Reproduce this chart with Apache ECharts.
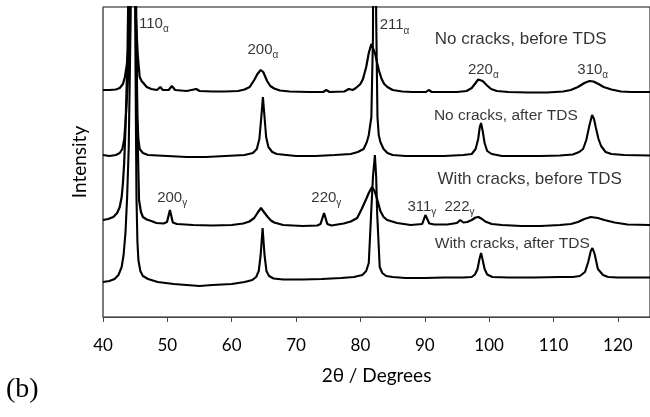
<!DOCTYPE html>
<html>
<head>
<meta charset="utf-8">
<script src="https://cdn.jsdelivr.net/npm/echarts@6/dist/echarts.min.js"></script>
<style>
  html, body { margin: 0; padding: 0; background: #fff; }
  #chart { width: 650px; height: 417px; }
</style>
</head>
<body>
<div id="chart"></div>
<script>
// x axis (2theta, degrees)
const xMin = 40, xMax = 125, xStep = 10;

// XRD traces, [2theta, intensity (arb., stacked offset)]
const noCracksBefore = [
  [40, 227], [41, 227], [42, 227.5], [42.6, 229], [43.1, 233], [43.4, 240], [43.7, 252], [43.9, 267],
  [44.1, 300], [44.3, 380], [44.6, 620], [44.9, 380], [45.1, 300], [45.4, 262], [45.7, 240], [46.0, 236],
  [46.8, 230], [47.5, 228], [48.4, 227], [48.9, 230], [49.3, 227], [50.2, 227], [50.7, 231], [51.2, 227],
  [53, 226], [54.5, 228], [55, 226], [57, 225.5], [59, 225.5], [61, 226], [62.0, 227.5], [62.8, 230],
  [63.5, 237], [64.0, 243], [64.5, 247], [64.9, 245], [65.5, 236], [66.0, 231], [66.6, 228.5], [67.5, 226.5],
  [69, 225.5], [72, 225], [74.2, 225], [74.7, 227], [75.2, 225], [77.5, 225.5], [78.2, 228], [78.8, 227],
  [79.3, 229], [80.0, 233], [80.4, 238], [80.9, 250], [81.3, 264], [81.7, 273], [81.95, 274], [82.3, 263],
  [82.6, 254], [82.9, 246], [83.3, 238], [83.7, 233], [84.2, 230], [85.0, 227], [86.5, 225.5], [88, 225],
  [90.2, 225], [90.6, 227], [91.1, 225], [93, 225], [95, 225], [96.5, 226], [97.3, 229], [97.9, 234],
  [98.3, 237.5], [98.6, 238], [99.0, 236], [99.6, 232], [100.3, 228], [101.2, 226], [103, 225], [106, 224.5],
  [109, 224.5], [111.5, 225.5], [112.7, 227], [113.8, 230], [114.8, 234], [115.6, 236], [116.2, 235.5],
  [117.0, 233], [117.8, 230], [119.0, 227.5], [120.5, 225.5], [122, 225], [125, 225]
];

const noCracksAfter = [
  [40, 162], [41, 161], [42, 162], [42.6, 164], [43.0, 168], [43.3, 178], [43.6, 205], [43.9, 240],
  [44.2, 320], [44.45, 500], [44.7, 800], [44.95, 500], [45.15, 300], [45.35, 200], [45.5, 178], [45.7, 168],
  [46.2, 164], [47, 162], [50, 161], [53, 160], [56, 160], [59, 161], [62, 162], [63.3, 164], [63.9, 168],
  [64.3, 178], [64.6, 200], [64.85, 220], [65.1, 200], [65.35, 180], [65.7, 170], [66.3, 165], [67, 163],
  [70, 161], [73, 161], [76, 162], [78.5, 163], [79.6, 165], [80.5, 168], [81.0, 175], [81.3, 182],
  [81.7, 200], [81.95, 280], [82.2, 800], [82.45, 300], [82.65, 200], [82.85, 182], [83.1, 175], [83.6, 168],
  [84.2, 164], [85, 162], [87, 161], [90, 161], [93, 161], [96, 162], [97.3, 163], [97.9, 168], [98.3, 178],
  [98.55, 190], [98.75, 194], [99.0, 186], [99.3, 174], [99.7, 166], [100.4, 163], [102, 161], [105, 161],
  [108, 161], [111, 161.5], [113, 162.5], [114.0, 165], [114.6, 168], [115.1, 177], [115.6, 192], [116.0, 202],
  [116.3, 198], [116.6, 189], [117.0, 178], [117.4, 171], [118.1, 165], [119, 163], [121, 162], [125, 161.5]
];

const withCracksBefore = [
  [40, 97], [40.8, 98], [41.6, 100], [42.2, 104], [42.6, 110], [42.9, 120], [43.1, 134], [43.3, 155],
  [43.5, 190], [43.8, 260], [44.1, 400], [44.6, 700], [45.0, 400], [45.3, 200], [45.6, 117], [45.9, 105],
  [46.2, 100], [46.8, 97.5], [47.5, 96], [48.3, 94], [49.4, 93.5], [49.95, 95], [50.4, 107], [50.85, 94.5],
  [51.5, 93], [54, 92], [57, 91.5], [60, 92], [61.8, 93.5], [62.75, 95.5], [63.5, 99], [64.0, 104],
  [64.55, 109], [65.0, 105], [65.6, 100], [66.1, 96.5], [66.6, 94.5], [68, 92], [71, 91], [73.3, 91.5],
  [73.8, 93], [74.35, 104], [74.85, 93], [75.5, 91.5], [77.4, 93.5], [78.5, 95.5], [79.5, 99], [80.2, 108],
  [80.9, 118], [81.3, 124], [81.8, 130], [82.2, 126], [82.6, 118], [83.1, 106], [83.6, 100], [84.15, 97],
  [85.7, 94], [87.8, 92], [89.6, 93], [90.1, 102], [90.7, 93.5], [91.5, 92.5], [93.5, 92.5], [94.5, 93.5],
  [95.0, 94], [95.5, 97], [96.0, 94.5], [96.6, 95], [97.3, 97], [97.9, 99.5], [98.35, 100], [98.9, 98],
  [99.4, 95.5], [100.4, 93], [102, 92], [105, 91], [108, 91], [111, 92], [112.7, 93], [113.8, 95],
  [114.8, 98], [115.8, 100], [116.9, 99], [117.9, 97], [119.5, 94.5], [121.5, 92.5], [125, 92]
];

const withCracksAfter = [
  [40, 35], [41, 36], [41.8, 38], [42.4, 42], [42.9, 50], [43.2, 62], [43.5, 85], [43.75, 120],
  [44.0, 170], [44.3, 300], [44.7, 800], [45.0, 300], [45.2, 120], [45.35, 75], [45.5, 57], [45.8, 46],
  [46.2, 41], [47, 38], [48.5, 35], [51, 33], [53, 32], [55, 31], [57, 32], [60, 33], [62, 35],
  [63.2, 37], [63.8, 40], [64.2, 46], [64.5, 62], [64.8, 89], [65.1, 62], [65.4, 46], [65.8, 41],
  [66.5, 38.5], [68, 37.5], [71, 37.5], [74, 38], [77, 39], [79, 40], [80.3, 42], [80.9, 46],
  [81.3, 54], [81.67, 104], [81.95, 140], [82.25, 162], [82.45, 140], [82.6, 104], [83.0, 50], [83.4, 44],
  [84, 41], [85, 40], [87, 39], [90, 39], [93, 39.5], [96, 39.5], [97.3, 40], [97.8, 42.5], [98.2, 48],
  [98.5, 58], [98.75, 64], [99.0, 57], [99.3, 48], [99.7, 42.5], [100.5, 40], [103, 39.5], [107, 39.5],
  [111, 40], [113, 40], [114.1, 41], [114.9, 45], [115.4, 55], [115.8, 66], [116.05, 69], [116.4, 63],
  [116.9, 48], [117.7, 42], [118.5, 40], [120, 39.5], [125, 39.5]
];

// peak labels (Miller index + phase subscript)
const peakIndex = ['110', '200', '211', '220', '310', '200', '220', '311', '222'];
const peakPhase = ['α', 'α', 'α', 'α', 'α', 'γ', 'γ', 'γ', 'γ'];
const peakLabelX = [47.9, 64.85, 85.3, 99.1, 116.1, 50.75, 74.7, 89.55, 95.4];
const peakLabelY = [293.5, 267, 291.7, 247.3, 247.3, 119.3, 119.3, 110.2, 110.2];

// sample names
const sampleNames = ['No cracks, before TDS', 'No cracks, after TDS', 'With cracks, before TDS', 'With cracks, after TDS'];
const sampleX = [104.9, 102.6, 106.3, 103.6];
const sampleY = [277.5, 201, 137.7, 73.2];
const sampleSize = [17, 15.5, 17, 15.5];

const sansFont = '"Liberation Sans", Arial, sans-serif';
const axisFont = 'Lato, "Open Sans", sans-serif';

const labelData = [];
peakIndex.forEach(function (t, i) {
  labelData.push({
    value: [peakLabelX[i], peakLabelY[i]],
    label: { formatter: '{m|' + t + '}{s|' + peakPhase[i] + '}' }
  });
});
sampleNames.forEach(function (t, i) {
  labelData.push({
    value: [sampleX[i], sampleY[i]],
    label: { formatter: t, fontSize: sampleSize[i] }
  });
});

function trace(name, data, w) {
  return {
    name: name,
    type: 'line',
    data: data,
    symbol: 'none',
    clip: true,
    lineStyle: { color: '#000', width: w },
    silent: true
  };
}

const chart = echarts.init(document.getElementById('chart'));
chart.setOption({
  animation: false,
  backgroundColor: '#fff',
  grid: {
    left: 103, right: -2, top: 7, bottom: 100,
    show: true, borderColor: '#111', borderWidth: 1
  },
  xAxis: {
    type: 'value',
    min: xMin, max: xMax, interval: xStep,
    name: '2θ / Degrees',
    nameLocation: 'middle',
    nameGap: 49,
    nameTextStyle: { fontFamily: axisFont, fontSize: 19, color: '#000' },
    axisLine: { show: true, lineStyle: { color: '#444', width: 1.2 } },
    axisTick: { show: true, inside: false, length: 5, lineStyle: { color: '#444' } },
    axisLabel: { margin: 20, fontFamily: axisFont, fontSize: 17, color: '#000', showMaxLabel: false },
    splitLine: { show: false }
  },
  yAxis: {
    type: 'value',
    min: 0, max: 310,
    name: 'Intensity',
    nameLocation: 'middle',
    nameGap: 14,
    nameTextStyle: { fontFamily: axisFont, fontSize: 19, color: '#000' },
    axisLine: { show: true, lineStyle: { color: '#777', width: 1.5 } },
    axisTick: { show: false },
    axisLabel: { show: false },
    splitLine: { show: false }
  },
  series: [
    trace('No cracks, before TDS', noCracksBefore, 2.2),
    trace('No cracks, after TDS', noCracksAfter, 2.1),
    trace('With cracks, before TDS', withCracksBefore, 2.2),
    trace('With cracks, after TDS', withCracksAfter, 2.1),
    {
      type: 'scatter',
      data: labelData,
      symbolSize: 1,
      itemStyle: { color: 'rgba(0,0,0,0)' },
      silent: true,
      z: 5,
      label: {
        show: true,
        position: 'inside',
        color: '#000',
        fontFamily: sansFont,
        fontSize: 15,
        rich: {
          m: { fontFamily: sansFont, fontSize: 15, lineHeight: 15, verticalAlign: 'top', color: '#000' },
          s: { fontFamily: sansFont, fontSize: 10, lineHeight: 10, padding: [8, 0, 0, 0], verticalAlign: 'top', color: '#000' }
        }
      }
    }
  ],
  graphic: [
    {
      type: 'text',
      x: 6, y: 390,
      style: {
        text: '(b)',
        font: '28px "Liberation Serif", "DejaVu Serif", serif',
        fill: '#000',
        textVerticalAlign: 'middle'
      }
    }
  ]
});
</script>
</body>
</html>
